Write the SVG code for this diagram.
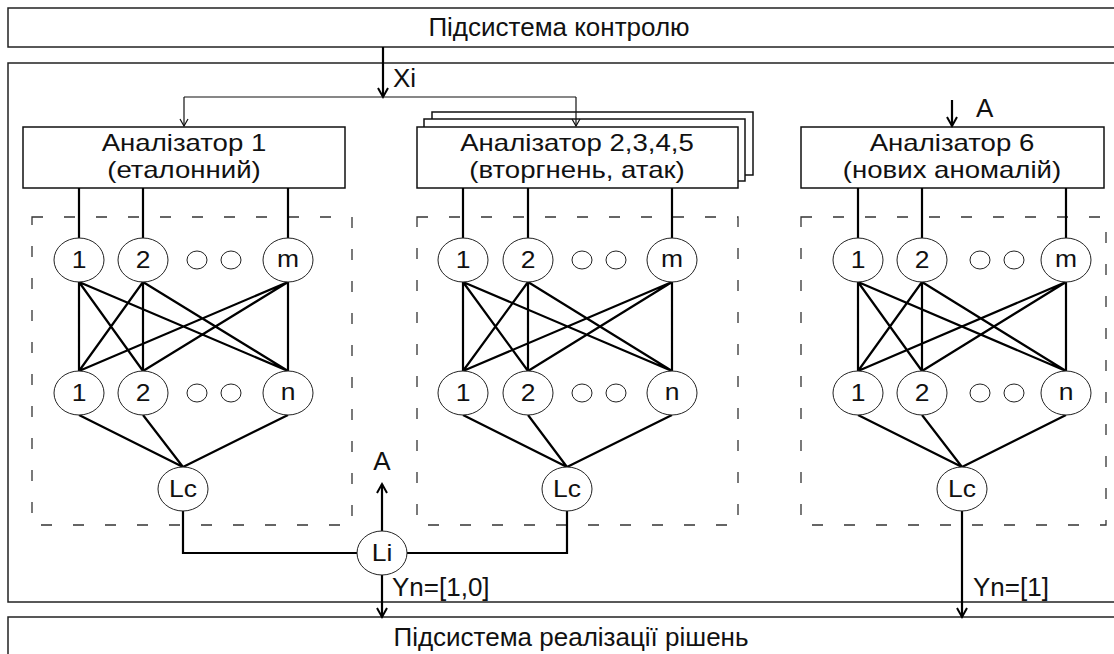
<svg xmlns="http://www.w3.org/2000/svg" width="1114" height="654" viewBox="0 0 1114 654">
<defs>
<style>
.frame{fill:#fff;stroke:#222;stroke-width:1.5}
.box{fill:#fff;stroke:#111;stroke-width:1.5}
.dash{fill:none;stroke:#333;stroke-width:1.3;stroke-dasharray:11 21}
.nd{fill:#fff;stroke:#222;stroke-width:1}
.w{stroke:#000;stroke-width:2.2;fill:none}
.thin{stroke:#111;stroke-width:1.2;fill:none}
text{font-family:'Liberation Sans',Arial,sans-serif;fill:#111}
.t{font-size:26px;text-anchor:middle}
.a{font-size:23px;text-anchor:middle}
.l{font-size:26px}
.n{font-size:23px;text-anchor:middle}
</style>
<marker id="ah" markerUnits="userSpaceOnUse" orient="auto" markerWidth="20" markerHeight="20" viewBox="-12 -10 20 20" refX="0" refY="0">
<path d="M-9,-5 L0,0 L-9,5" fill="none" stroke="#000" stroke-width="2"/>
</marker>
<marker id="at" markerUnits="userSpaceOnUse" orient="auto" markerWidth="20" markerHeight="20" viewBox="-12 -10 20 20" refX="0" refY="0">
<path d="M-7,-4 L0,0 L-7,4" fill="none" stroke="#111" stroke-width="1.2"/>
</marker>
</defs>
<rect width="1114" height="654" fill="#fff"/>

<g id="analysis-subsystem"><rect class="frame" x="8" y="63" width="1126" height="539"/></g>
<g id="control"><rect class="frame" x="8" y="8" width="1126" height="39"/><text class="t" x="559" y="36">Підсистема контролю</text></g>
<g id="decision"><rect class="frame" x="8" y="617" width="1126" height="50"/><text class="t" x="571" y="646">Підсистема реалізації рішень</text></g>

<g id="net1-area"><rect class="dash" x="32" y="217" width="320" height="308"/></g>
<g id="net2-area"><rect class="dash" x="417" y="217" width="321" height="308"/></g>
<g id="net6-area"><rect class="dash" x="801" y="217" width="305" height="308"/></g>

<g id="analyzer1"><rect class="box" x="23" y="127" width="322" height="61"/><text class="a" transform="translate(184,151) scale(1.2,1)">Аналізатор 1</text><text class="a" transform="translate(184,178) scale(1.2,1)">(еталонний)</text></g>
<g id="analyzer2"><rect class="box" x="432" y="112" width="321" height="63"/><rect class="box" x="424" y="119" width="321" height="62"/><rect class="box" x="417" y="127" width="321" height="61"/><text class="a" transform="translate(577,151) scale(1.2,1)">Аналізатор 2,3,4,5</text><text class="a" transform="translate(577,178) scale(1.2,1)">(вторгнень, атак)</text></g>
<g id="analyzer6"><rect class="box" x="801" y="127" width="303" height="61"/><text class="a" transform="translate(952,151) scale(1.2,1)">Аналізатор 6</text><text class="a" transform="translate(952,178) scale(1.2,1)">(нових аномалій)</text></g>

<g id="connectors">
<path class="w" d="M383,47 V97" marker-end="url(#ah)"/>
<path class="thin" d="M184,97 H576"/>
<path class="thin" d="M184,97 V126" marker-end="url(#at)"/>
<path class="thin" d="M576,97 V126" marker-end="url(#at)"/>
<path class="w" d="M952,100 V126" marker-end="url(#ah)"/>
<path class="w" d="M79,188 V238 M143,188 V238 M288,188 V238 M463,188 V238 M528,188 V238 M672,188 V238 M858,188 V238 M922,188 V238 M1066,188 V238"/>
<path class="w" d="M79,282 L79,371 M79,282 L143,371 M79,282 L288,371 M143,282 L79,371 M143,282 L143,371 M143,282 L288,371 M288,282 L79,371 M288,282 L143,371 M288,282 L288,371"/>
<path class="w" d="M463,282 L463,371 M463,282 L528,371 M463,282 L672,371 M528,282 L463,371 M528,282 L528,371 M528,282 L672,371 M672,282 L463,371 M672,282 L528,371 M672,282 L672,371"/>
<path class="w" d="M858,282 L858,371 M858,282 L922,371 M858,282 L1066,371 M922,282 L858,371 M922,282 L922,371 M922,282 L1066,371 M1066,282 L858,371 M1066,282 L922,371 M1066,282 L1066,371"/>
<path class="w" d="M79,415 L183,467 M143,415 L183,467 M288,415 L183,467"/>
<path class="w" d="M463,415 L567,467 M528,415 L567,467 M672,415 L567,467"/>
<path class="w" d="M858,415 L962,467 M922,415 L962,467 M1066,415 L962,467"/>
<path class="w" d="M183,511 V553 H357 M407,553 H567 V511"/>
<path class="w" d="M382,531 V484" marker-end="url(#ah)"/>
<path class="w" d="M382,575 V617" marker-end="url(#ah)"/>
<path class="w" d="M962,511 V617" marker-end="url(#ah)"/>
</g>

<g id="n1-in1"><ellipse class="nd" cx="79" cy="260" rx="25" ry="22"/><text class="n" transform="translate(79,268) scale(1.15,1)">1</text></g>
<g id="n1-in2"><ellipse class="nd" cx="143" cy="260" rx="25" ry="22"/><text class="n" transform="translate(143,268) scale(1.15,1)">2</text></g>
<g id="n1-dots-in"><ellipse class="nd" cx="197" cy="260" rx="10" ry="9"/><ellipse class="nd" cx="231" cy="260" rx="10" ry="9"/></g>
<g id="n1-inm"><ellipse class="nd" cx="288" cy="260" rx="25" ry="22"/><text class="n" transform="translate(288,267) scale(1.15,1)">m</text></g>
<g id="n1-h1"><ellipse class="nd" cx="79" cy="393" rx="25" ry="22"/><text class="n" transform="translate(79,401) scale(1.15,1)">1</text></g>
<g id="n1-h2"><ellipse class="nd" cx="143" cy="393" rx="25" ry="22"/><text class="n" transform="translate(143,401) scale(1.15,1)">2</text></g>
<g id="n1-dots-h"><ellipse class="nd" cx="197" cy="393" rx="10" ry="9"/><ellipse class="nd" cx="231" cy="393" rx="10" ry="9"/></g>
<g id="n1-hn"><ellipse class="nd" cx="288" cy="393" rx="25" ry="22"/><text class="n" transform="translate(288,400) scale(1.15,1)">n</text></g>
<g id="n1-lc"><ellipse class="nd" cx="183" cy="489" rx="25" ry="22"/><text class="n" transform="translate(183,497) scale(1.15,1)">Lc</text></g>

<g id="n2-in1"><ellipse class="nd" cx="463" cy="260" rx="25" ry="22"/><text class="n" transform="translate(463,268) scale(1.15,1)">1</text></g>
<g id="n2-in2"><ellipse class="nd" cx="528" cy="260" rx="25" ry="22"/><text class="n" transform="translate(528,268) scale(1.15,1)">2</text></g>
<g id="n2-dots-in"><ellipse class="nd" cx="582" cy="260" rx="10" ry="9"/><ellipse class="nd" cx="616" cy="260" rx="10" ry="9"/></g>
<g id="n2-inm"><ellipse class="nd" cx="672" cy="260" rx="25" ry="22"/><text class="n" transform="translate(672,267) scale(1.15,1)">m</text></g>
<g id="n2-h1"><ellipse class="nd" cx="463" cy="393" rx="25" ry="22"/><text class="n" transform="translate(463,401) scale(1.15,1)">1</text></g>
<g id="n2-h2"><ellipse class="nd" cx="528" cy="393" rx="25" ry="22"/><text class="n" transform="translate(528,401) scale(1.15,1)">2</text></g>
<g id="n2-dots-h"><ellipse class="nd" cx="582" cy="393" rx="10" ry="9"/><ellipse class="nd" cx="616" cy="393" rx="10" ry="9"/></g>
<g id="n2-hn"><ellipse class="nd" cx="672" cy="393" rx="25" ry="22"/><text class="n" transform="translate(672,400) scale(1.15,1)">n</text></g>
<g id="n2-lc"><ellipse class="nd" cx="567" cy="489" rx="25" ry="22"/><text class="n" transform="translate(567,497) scale(1.15,1)">Lc</text></g>

<g id="n6-in1"><ellipse class="nd" cx="858" cy="260" rx="25" ry="22"/><text class="n" transform="translate(858,268) scale(1.15,1)">1</text></g>
<g id="n6-in2"><ellipse class="nd" cx="922" cy="260" rx="25" ry="22"/><text class="n" transform="translate(922,268) scale(1.15,1)">2</text></g>
<g id="n6-dots-in"><ellipse class="nd" cx="980" cy="260" rx="10" ry="9"/><ellipse class="nd" cx="1014" cy="260" rx="10" ry="9"/></g>
<g id="n6-inm"><ellipse class="nd" cx="1066" cy="260" rx="25" ry="22"/><text class="n" transform="translate(1066,267) scale(1.15,1)">m</text></g>
<g id="n6-h1"><ellipse class="nd" cx="858" cy="393" rx="25" ry="22"/><text class="n" transform="translate(858,401) scale(1.15,1)">1</text></g>
<g id="n6-h2"><ellipse class="nd" cx="922" cy="393" rx="25" ry="22"/><text class="n" transform="translate(922,401) scale(1.15,1)">2</text></g>
<g id="n6-dots-h"><ellipse class="nd" cx="980" cy="393" rx="10" ry="9"/><ellipse class="nd" cx="1014" cy="393" rx="10" ry="9"/></g>
<g id="n6-hn"><ellipse class="nd" cx="1066" cy="393" rx="25" ry="22"/><text class="n" transform="translate(1066,400) scale(1.15,1)">n</text></g>
<g id="n6-lc"><ellipse class="nd" cx="962" cy="489" rx="25" ry="22"/><text class="n" transform="translate(962,497) scale(1.15,1)">Lc</text></g>

<g id="li"><ellipse class="nd" cx="382" cy="553" rx="25" ry="22"/><text class="n" transform="translate(382,561) scale(1.15,1)">Li</text></g>

<g id="labels">
<text class="l" x="393" y="87">Xi</text>
<text class="l" x="976" y="117">A</text>
<text class="t" x="382" y="470">A</text>
<text class="l" x="392" y="596">Yn=[1,0]</text>
<text class="l" x="973" y="596">Yn=[1]</text>
</g>
</svg>
